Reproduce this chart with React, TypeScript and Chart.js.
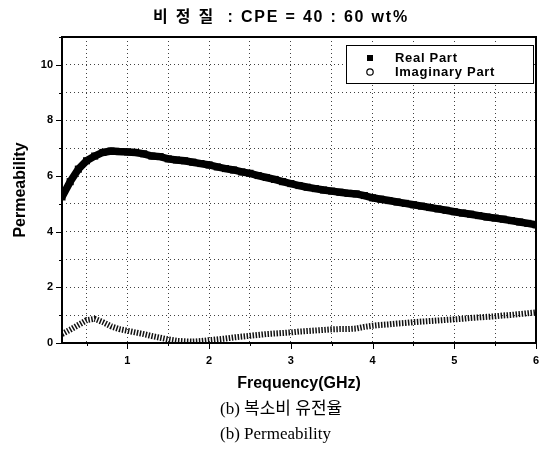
import React, { useEffect, useRef } from 'react';
import { Chart, registerables } from 'chart.js';

Chart.register(...registerables);

const TITLE = '비 정 질  : CPE = 40 : 60 wt%';
const X_TITLE = 'Frequency(GHz)';
const Y_TITLE = 'Permeability';
const CAPTION_KO = '(b) 복소비 유전율';
const CAPTION_EN = '(b) Permeability';
const SERIES_NAMES = ['Real Part', 'Imaginary Part'];

const FREQUENCY = [
  0.2, 0.3, 0.4, 0.5, 0.6, 0.7, 0.8, 0.9, 1.0,
  1.1, 1.2, 1.3, 1.4, 1.5, 1.6, 1.7, 1.8, 1.9, 2.0,
  2.1, 2.2, 2.3, 2.4, 2.5, 2.6, 2.7, 2.8, 2.9, 3.0,
  3.1, 3.2, 3.3, 3.4, 3.5, 3.6, 3.7, 3.8, 3.9, 4.0,
  4.1, 4.2, 4.3, 4.4, 4.5, 4.6, 4.7, 4.8, 4.9, 5.0,
  5.1, 5.2, 5.3, 5.4, 5.5, 5.6, 5.7, 5.8, 5.9, 6.0,
];

const REAL_PART = [
  5.25, 5.8, 6.25, 6.55, 6.72, 6.85, 6.9, 6.88, 6.87,
  6.85, 6.8, 6.72, 6.7, 6.62, 6.58, 6.55, 6.5, 6.45, 6.4,
  6.33, 6.27, 6.22, 6.15, 6.1, 6.02, 5.95, 5.88, 5.8, 5.73,
  5.66, 5.6, 5.55, 5.5, 5.46, 5.42, 5.38, 5.36, 5.3, 5.22,
  5.17, 5.12, 5.07, 5.02, 4.97, 4.92, 4.87, 4.82, 4.77, 4.72,
  4.67, 4.63, 4.58, 4.53, 4.49, 4.45, 4.4, 4.35, 4.3, 4.25,
];

const IMAG_PART = [
  0.32, 0.48, 0.65, 0.82, 0.87, 0.75, 0.6, 0.5, 0.44,
  0.38, 0.32, 0.25, 0.19, 0.13, 0.08, 0.06, 0.05, 0.07, 0.1,
  0.13, 0.16, 0.2, 0.23, 0.26, 0.29, 0.32, 0.34, 0.36, 0.38,
  0.41, 0.43, 0.45, 0.47, 0.49, 0.5, 0.5, 0.52, 0.58, 0.62,
  0.65, 0.67, 0.7, 0.72, 0.75, 0.77, 0.79, 0.81, 0.83, 0.85,
  0.87, 0.9, 0.92, 0.94, 0.96, 0.99, 1.01, 1.04, 1.07, 1.1,
];

const X_TICKS = [0.5, 1, 1.5, 2, 2.5, 3, 3.5, 4, 4.5, 5, 5.5, 6];
const X_LABELS = [1, 2, 3, 4, 5, 6];
const Y_TICKS = [0, 1, 2, 3, 4, 5, 6, 7, 8, 9, 10, 11];
const Y_LABELS = [0, 2, 4, 6, 8, 10];

const SANS = '"Liberation Sans", Arial, "Noto Sans CJK KR", sans-serif';
const SERIF = '"Liberation Serif", "Times New Roman", "Noto Sans CJK KR", serif';

const framePlugin = {
  id: 'frameAndTicks',
  afterDraw(chart: any) {
    const ctx = chart.ctx;
    const { left, right, top, bottom } = chart.chartArea;
    const xs = chart.scales.x;
    const ys = chart.scales.y;
    ctx.save();
    ctx.strokeStyle = '#000';
    ctx.lineWidth = 1;
    ctx.beginPath();
    X_TICKS.forEach((v) => {
      const px = Math.round(xs.getPixelForValue(v)) + 0.5;
      const len = X_LABELS.includes(v) ? 6 : 3;
      ctx.moveTo(px, bottom);
      ctx.lineTo(px, bottom + len);
    });
    Y_TICKS.forEach((v) => {
      const py = Math.round(ys.getPixelForValue(v)) + 0.5;
      const len = Y_LABELS.includes(v) ? 6 : 3;
      ctx.moveTo(left, py);
      ctx.lineTo(left - len, py);
    });
    ctx.stroke();
    ctx.lineWidth = 2;
    ctx.strokeRect(left, top, right - left, bottom - top);

    // legend
    const bx = right - 190;
    const by = top + 8;
    const bw = 187;
    const bh = 38;
    ctx.fillStyle = '#fff';
    ctx.fillRect(bx, by, bw, bh);
    ctx.lineWidth = 1;
    ctx.strokeStyle = '#000';
    ctx.strokeRect(bx + 0.5, by + 0.5, bw, bh);
    ctx.font = 'bold 13px ' + SANS;
    try { (ctx as any).letterSpacing = '0.7px'; } catch (e) {}
    ctx.textBaseline = 'middle';
    ctx.textAlign = 'left';
    const rows = [by + 13, by + 27];
    ctx.fillStyle = '#000';
    ctx.fillRect(bx + 21, rows[0] - 3, 6, 6);
    ctx.fillText(SERIES_NAMES[0], bx + 49, rows[0]);
    ctx.beginPath();
    ctx.arc(bx + 24, rows[1], 3.2, 0, Math.PI * 2);
    ctx.fillStyle = '#fff';
    ctx.fill();
    ctx.lineWidth = 1.2;
    ctx.stroke();
    ctx.fillStyle = '#000';
    ctx.fillText(SERIES_NAMES[1], bx + 49, rows[1]);
    try { (ctx as any).letterSpacing = '0px'; } catch (e) {}
    ctx.restore();
  },
};

export default function App() {
  const ref = useRef<HTMLCanvasElement>(null);

  useEffect(() => {
    document.body.style.margin = '0';
    const canvas = ref.current;
    if (!canvas) return;
    const realData = FREQUENCY.map((f, i) => ({ x: f, y: REAL_PART[i] }));
    const imagData = FREQUENCY.map((f, i) => ({ x: f, y: IMAG_PART[i] }));
    const gridStyle = {
      color: 'rgba(0,0,0,0.75)',
      lineWidth: 1,
      drawTicks: false,
    };
    const borderStyle = { display: false, dash: [1, 3] };
    const chart = new Chart(canvas, {
      type: 'scatter',
      data: {
        datasets: [
          {
            label: SERIES_NAMES[1],
            data: imagData,
            showLine: true,
            borderColor: '#111',
            borderWidth: 6,
            borderDash: [1.5, 1.5],
            pointRadius: 0,
          },
          {
            label: SERIES_NAMES[0],
            data: realData,
            showLine: true,
            borderColor: '#000',
            borderWidth: 7.5,
            pointStyle: 'rect',
            pointRadius: 5,
            pointBackgroundColor: '#000',
            pointBorderColor: '#000',
            pointBorderWidth: 0,
          },
        ],
      },
      options: {
        responsive: false,
        animation: false,
        events: [],
        layout: { padding: { left: 0, right: 10, top: 37, bottom: 64 } },
        plugins: {
          legend: { display: false },
          title: { display: false },
          tooltip: { enabled: false },
        },
        scales: {
          x: {
            type: 'linear',
            min: 0.2,
            max: 6,
            afterBuildTicks: (scale: any) => {
              scale.ticks = X_TICKS.map((v) => ({ value: v }));
            },
            afterFit: (scale: any) => {
              scale.height = 50;
              scale.paddingLeft = 0;
              scale.paddingRight = 0;
            },
            grid: gridStyle,
            border: borderStyle,
            ticks: {
              autoSkip: false,
              maxRotation: 0,
              padding: 11,
              color: '#000',
              font: { family: SANS, size: 11, weight: 'bold' },
              callback: (v: any) => (X_LABELS.includes(Number(v)) ? String(v) : ''),
            },
            title: {
              display: true,
              text: X_TITLE,
              color: '#000',
              font: { family: SANS, size: 16, weight: 'bold' },
              padding: { top: 0, bottom: 0 },
            },
          },
          y: {
            type: 'linear',
            min: 0,
            max: 11,
            afterBuildTicks: (scale: any) => {
              scale.ticks = Y_TICKS.map((v) => ({ value: v }));
            },
            afterFit: (scale: any) => {
              scale.width = 62;
              scale.paddingTop = 0;
              scale.paddingBottom = 0;
            },
            grid: gridStyle,
            border: borderStyle,
            ticks: {
              autoSkip: false,
              padding: 9,
              color: '#000',
              font: { family: SANS, size: 11, weight: 'bold' },
              callback: (v: any) => (Y_LABELS.includes(Number(v)) ? String(v) : ''),
            },
            title: {
              display: true,
              text: Y_TITLE,
              color: '#000',
              font: { family: SANS, size: 16, weight: 'bold' },
              padding: { top: 11, bottom: 0 },
            },
          },
        },
      },
      plugins: [framePlugin],
    } as any);
    return () => chart.destroy();
  }, []);

  return (
    <div style={{ position: 'relative', width: 546, height: 457, background: '#fff', overflow: 'hidden' }}>
      <canvas ref={ref} width={546} height={457} style={{ position: 'absolute', left: 0, top: 0 }} />
      <div
        style={{
          position: 'absolute',
          left: 0,
          width: 562,
          top: 6,
          textAlign: 'center',
          font: 'bold 16px ' + SANS,
          letterSpacing: '1.8px',
          lineHeight: '22px',
          whiteSpace: 'pre',
          color: '#000',
        }}
      >
        {TITLE}
      </div>
      <div
        style={{
          position: 'absolute',
          left: 220,
          top: 396,
          font: '17px ' + SERIF,
          lineHeight: '25px',
          whiteSpace: 'pre',
          color: '#000',
        }}
      >
        {CAPTION_KO}
      </div>
      <div
        style={{
          position: 'absolute',
          left: 220,
          top: 421,
          font: '17px ' + SERIF,
          lineHeight: '25px',
          whiteSpace: 'pre',
          color: '#000',
        }}
      >
        {CAPTION_EN}
      </div>
    </div>
  );
}
